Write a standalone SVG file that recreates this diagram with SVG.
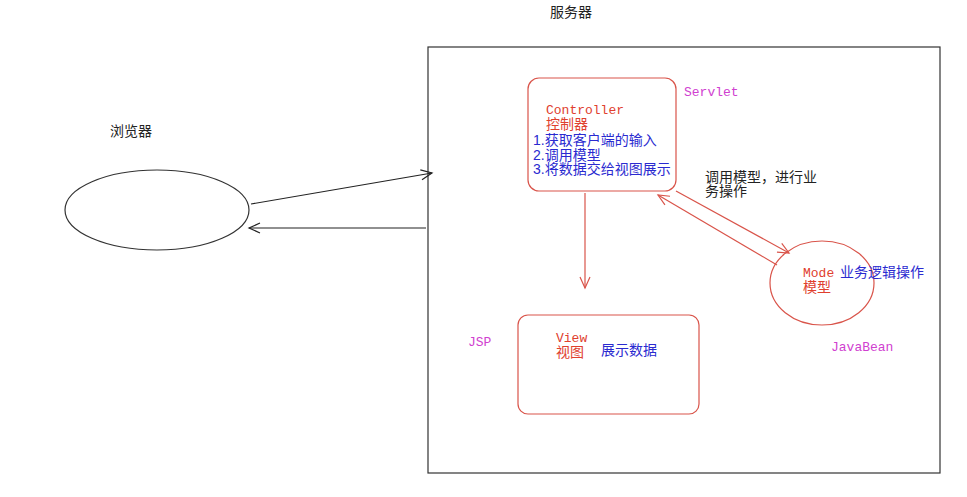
<svg xmlns="http://www.w3.org/2000/svg" width="967" height="497" viewBox="0 0 967 497">
<defs>
<style>
.cn{font-family:"Liberation Sans","Noto Sans CJK SC",sans-serif;font-size:14px}
.mono{font-family:"Liberation Mono","Noto Sans CJK SC",monospace;font-size:13px}
.red{fill:#e0402e}
.blue{fill:#2a2ad0}
.mag{fill:#d040d0}
.blk{fill:#222}
.rs{fill:#fff;stroke:#d9544a;stroke-width:1.2}
.line{fill:none;stroke:#222;stroke-width:1.2}
.rline{fill:none;stroke:#d9544a;stroke-width:1.2}
</style>
<marker id="ah" markerWidth="14" markerHeight="12" refX="12" refY="6" orient="auto" markerUnits="userSpaceOnUse">
<path d="M1,1 L12,6 L1,11" fill="none" stroke="#222" stroke-width="1.2"/>
</marker>
<marker id="rah" markerWidth="14" markerHeight="12" refX="12" refY="6" orient="auto" markerUnits="userSpaceOnUse">
<path d="M1,1 L12,6 L1,11" fill="none" stroke="#d9544a" stroke-width="1.2"/>
</marker>
</defs>
<rect width="967" height="497" fill="#fff"/>
<g id="server">
<rect x="428" y="47" width="512" height="426" fill="none" stroke="#333" stroke-width="1.2"/>
<text class="cn blk" x="550" y="17">服务器</text>
</g>
<g id="browser">
<ellipse cx="157" cy="210" rx="92" ry="40" fill="#fff" stroke="#333" stroke-width="1.2"/>
<text class="cn blk" x="110" y="136">浏览器</text>
</g>
<g id="controller">
<rect class="rs" x="528" y="78" width="148" height="113" rx="11"/>
<text class="mono red" x="546" y="114">Controller</text>
<text class="cn red" x="546" y="129">控制器</text>
<text class="cn blue" x="533" y="145">1.获取客户端的输入</text>
<text class="cn blue" x="533" y="160">2.调用模型</text>
<text class="cn blue" x="533" y="174">3.将数据交给视图展示</text>
<text class="mono mag" x="684" y="96">Servlet</text>
</g>
<g id="view">
<rect class="rs" x="518" y="315" width="181" height="99" rx="10"/>
<text class="mono red" x="556" y="342">View</text>
<text class="cn red" x="556" y="357">视图</text>
<text class="cn blue" x="601" y="355">展示数据</text>
<text class="mono mag" x="468" y="346">JSP</text>
</g>
<g id="model">
<ellipse cx="822" cy="283" rx="52" ry="42" fill="#fff" stroke="#d9544a" stroke-width="1.2"/>
<text class="mono red" x="803" y="277">Mode</text>
<text class="cn red" x="803" y="292">模型</text>
<text class="cn blue" x="840" y="277">业务逻辑操作</text>
<text class="mono mag" x="831" y="351">JavaBean</text>
</g>
<g id="connectors">
<line class="line" x1="251" y1="204" x2="432" y2="173" marker-end="url(#ah)"/>
<line class="line" x1="426" y1="228" x2="249" y2="228" marker-end="url(#ah)"/>
<line class="rline" x1="585" y1="193" x2="585" y2="288" marker-end="url(#rah)"/>
<line class="rline" x1="676" y1="191" x2="789" y2="253" marker-end="url(#rah)"/>
<line class="rline" x1="777" y1="265" x2="658" y2="195" marker-end="url(#rah)"/>
<text class="cn blk" x="705" y="182">调用模型，进行业</text>
<text class="cn blk" x="705" y="196">务操作</text>
</g>
</svg>
